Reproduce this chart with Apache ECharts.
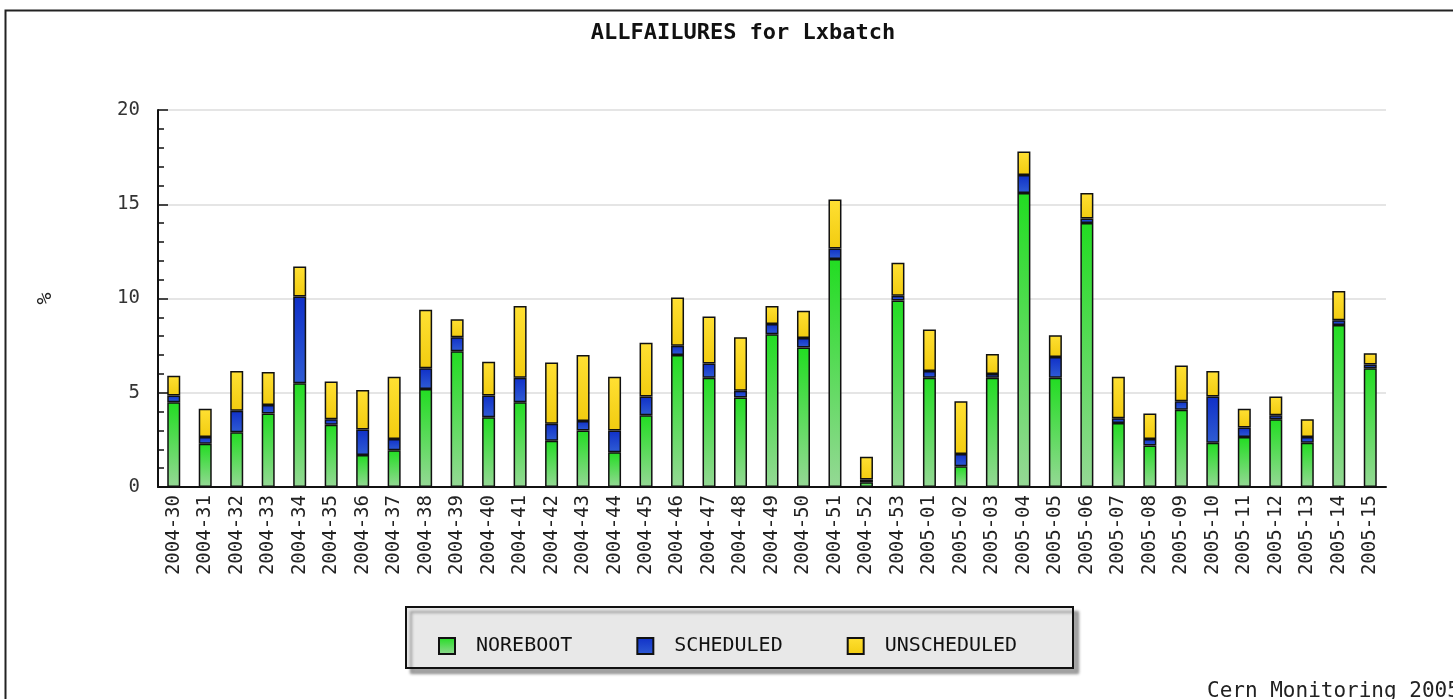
<script src="https://cdnjs.cloudflare.com/ajax/libs/echarts/6.0.0/echarts.min.js"></script>
<style>
  html, body { margin: 0; padding: 0; background: #fff; }
  #myChart { width: 1453px; height: 699px; }
</style>
<div id="myChart"></div>
<script type="text/javascript">

  // weeks on the x axis
  var weeks = [
    "2004-30", "2004-31", "2004-32", "2004-33", "2004-34", "2004-35", "2004-36", "2004-37",
    "2004-38", "2004-39", "2004-40", "2004-41", "2004-42", "2004-43", "2004-44", "2004-45",
    "2004-46", "2004-47", "2004-48", "2004-49", "2004-50", "2004-51", "2004-52", "2004-53",
    "2005-01", "2005-02", "2005-03", "2005-04", "2005-05", "2005-06", "2005-07", "2005-08",
    "2005-09", "2005-10", "2005-11", "2005-12", "2005-13", "2005-14", "2005-15"
  ];

  // % per week
  var noreboot = [
    4.5, 2.3, 2.9, 3.9, 5.5, 3.3, 1.7, 1.95, 5.2, 7.2, 3.7, 4.5, 2.45, 3.0, 1.85, 3.8,
    7.0, 5.8, 4.75, 8.1, 7.4, 12.1, 0.25, 9.9,
    5.8, 1.1, 5.8, 15.6, 5.8, 14.0, 3.4, 2.2, 4.1, 2.35, 2.65, 3.6, 2.35, 8.6, 6.3
  ];
  var scheduled = [
    0.35, 0.35, 1.15, 0.45, 4.6, 0.3, 1.35, 0.6, 1.1, 0.75, 1.15, 1.3, 0.9, 0.5, 1.15, 1.0,
    0.5, 0.75, 0.35, 0.55, 0.5, 0.55, 0.15, 0.25,
    0.35, 0.65, 0.2, 0.95, 1.1, 0.25, 0.25, 0.35, 0.45, 2.45, 0.5, 0.2, 0.3, 0.25, 0.2
  ];
  var unscheduled = [
    1.05, 1.5, 2.1, 1.75, 1.6, 2.0, 2.1, 3.3, 3.1, 0.95, 1.8, 3.8, 3.25, 3.5, 2.85, 2.85,
    2.55, 2.5, 2.85, 0.95, 1.45, 2.6, 1.2, 1.75,
    2.2, 2.8, 1.05, 1.25, 1.15, 1.35, 2.2, 1.35, 1.9, 1.35, 1.0, 1.0, 0.95, 1.55, 0.6
  ];
  var yTicks = [0, 5, 10, 15, 20];

  var mono = "DejaVu Sans Mono";
  var chartDom = document.getElementById("myChart");
  var myChart = echarts.init(chartDom);

  function grad(top, bottom) {
    return new echarts.graphic.LinearGradient(0, 0, 0, 1, [
      { offset: 0, color: top },
      { offset: 1, color: bottom }
    ]);
  }

  function barSeries(name, values, color) {
    return {
      name: name,
      type: "bar",
      stack: "all",
      barWidth: 13,
      data: values,
      itemStyle: {
        color: color,
        borderColor: "#111",
        borderWidth: 1.5
      },
      emphasis: { disabled: true }
    };
  }

  var option = {
    backgroundColor: "#fff",
    animation: false,
    title: {
      text: "ALLFAILURES for Lxbatch",
      left: 738,
      top: 8,
      textAlign: "center",
      textStyle: { fontFamily: mono, fontSize: 22, fontWeight: "bold", color: "#111" }
    },
    grid: { left: 158, right: 67, top: 110, bottom: 212 },
    legend: {
      left: 438,
      top: 628,
      padding: 0,
      itemWidth: 16,
      itemHeight: 16,
      itemGap: 64,
      icon: "rect",
      textStyle: { fontFamily: mono, fontSize: 20, color: "#111", padding: [0, 0, 0, 16] },
      data: ["NOREBOOT", "SCHEDULED", "UNSCHEDULED"]
    },
    xAxis: {
      type: "category",
      data: weeks,
      axisLine: { lineStyle: { color: "#111", width: 2 } },
      axisTick: { inside: true, length: 9, lineStyle: { color: "#111", width: 1.5 } },
      axisLabel: {
        rotate: 90,
        margin: 8,
        interval: 0,
        fontFamily: mono,
        fontSize: 19,
        color: "#222"
      }
    },
    yAxis: {
      type: "value",
      min: yTicks[0],
      max: yTicks[yTicks.length - 1],
      interval: 5,
      name: "%",
      nameLocation: "middle",
      nameRotate: 90,
      nameGap: 94,
      nameTextStyle: { fontFamily: mono, fontSize: 20, color: "#222" },
      axisLine: { show: true, lineStyle: { color: "#111", width: 2 } },
      axisTick: { show: true, inside: true, length: 10, lineStyle: { color: "#111", width: 1.5 } },
      minorTick: { show: true, splitNumber: 5, length: 6, lineStyle: { color: "#111", width: 1.5 } },
      splitLine: { show: true, lineStyle: { color: "#dcdcdc", width: 1.5 } },
      axisLabel: { margin: 18, fontFamily: mono, fontSize: 19, color: "#333" }
    },
    graphic: [
      {
        type: "rect",
        left: 3,
        top: 8,
        shape: { width: 1500, height: 800 },
        style: { fill: "none", stroke: "#222", lineWidth: 2 },
        silent: true
      },
      {
        type: "rect",
        left: 405,
        top: 606,
        shape: { width: 667, height: 61 },
        style: {
          fill: "#e8e8e8",
          stroke: "#111",
          lineWidth: 2,
          shadowColor: "rgba(0,0,0,0.35)",
          shadowOffsetX: 5,
          shadowOffsetY: 5,
          shadowBlur: 3
        },
        z: -1,
        silent: true
      },
      {
        type: "text",
        left: 1207,
        top: 673,
        style: { text: "Cern Monitoring 2005", font: "21px " + mono, fill: "#222" },
        silent: true
      }
    ],
    series: [
      barSeries("NOREBOOT", noreboot, grad("#22dd22", "#95d895")),
      barSeries("SCHEDULED", scheduled, grad("#1030c8", "#2f5cd4")),
      barSeries("UNSCHEDULED", unscheduled, grad("#ffe033", "#f2cc10"))
    ]
  };

  option && myChart.setOption(option);
</script>
